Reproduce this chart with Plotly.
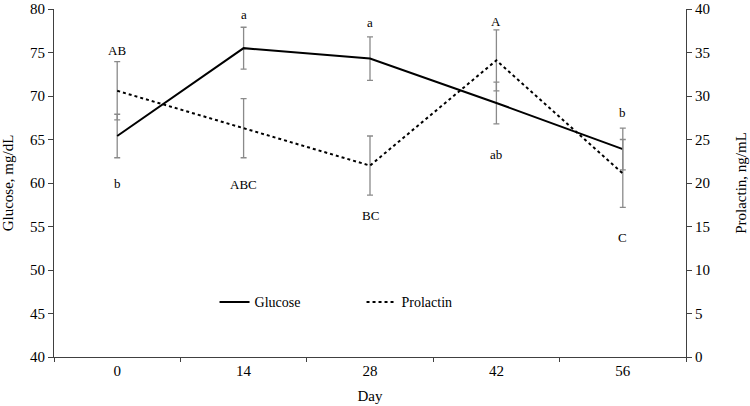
import plotly.graph_objects as go

days = ["0", "14", "28", "42", "56"]
glucose = [65.4, 75.5, 74.3, 69.2, 63.9]
glucose_se = [2.5, 2.4, 2.5, 2.4, 2.4]
prolactin = [30.6, 26.3, 22.0, 34.1, 21.1]
prolactin_se = [3.35, 3.4, 3.4, 3.5, 3.9]
glucose_letters = ["b", "a", "a", "ab", "b"]
prolactin_letters = ["AB", "ABC", "BC", "A", "C"]

FONT = "Liberation Serif"
ERR = "#8a8a8a"
AX = "#404040"

fig = go.Figure()
fig.add_trace(go.Scatter(
    x=days, y=glucose, name="Glucose", mode="lines",
    line=dict(color="black", width=2),
    error_y=dict(type="data", array=glucose_se, color=ERR, thickness=1.3, width=3),
))
fig.add_trace(go.Scatter(
    x=days, y=prolactin, name="Prolactin", mode="lines", yaxis="y2",
    line=dict(color="black", width=2, dash="dot"),
    error_y=dict(type="data", array=prolactin_se, color=ERR, thickness=1.3, width=3),
))

# letter positions (glucose-axis units)
letter_y_glu = [59.9, 79.4, 78.5, 63.3, 68.1]
letter_y_pro = [75.2, 59.8, 56.25, 78.6, 53.75]
for i, d in enumerate(days):
    fig.add_annotation(x=i, y=letter_y_glu[i], xref="x", yref="y", text=glucose_letters[i],
                       showarrow=False, font=dict(family=FONT, size=13, color="black"))
    fig.add_annotation(x=i, y=letter_y_pro[i], xref="x", yref="y", text=prolactin_letters[i],
                       showarrow=False, font=dict(family=FONT, size=13, color="black"))

fig.update_layout(
    width=750, height=406,
    margin=dict(l=54, r=63.5, t=9, b=49, autoexpand=False),
    paper_bgcolor="white", plot_bgcolor="white",
    font=dict(family=FONT, size=15, color="black"),
    showlegend=True,
    legend=dict(orientation="h", x=0.254, y=0.157, xanchor="left", yanchor="middle",
                bgcolor="rgba(0,0,0,0)", font=dict(family=FONT, size=14, color="black"),
                entrywidth=102, entrywidthmode="pixels", itemwidth=30),
    xaxis=dict(type="category", range=[-0.5, 4.5], autorange=False,
               title=dict(text="Day", standoff=12, font=dict(size=15)),
               showline=True, linecolor=AX, linewidth=1, ticks="outside", tickson="boundaries",
               ticklen=4, tickcolor=AX, showgrid=False, zeroline=False, automargin=False,
               tickfont=dict(size=15)),
    yaxis=dict(title=dict(text="Glucose, mg/dL", standoff=12, font=dict(size=15)),
               range=[40, 80], dtick=5, showline=True, linecolor=AX, linewidth=1,
               ticks="outside", ticklen=5, tickcolor=AX, showgrid=False, zeroline=False,
               automargin=False, tickfont=dict(size=15), ticklabeloverflow="allow"),
    yaxis2=dict(title=dict(text="Prolactin, ng/mL", standoff=26, font=dict(size=15)),
                range=[0, 40], dtick=5, overlaying="y", side="right",
                showline=True, linecolor=AX, linewidth=1, ticks="outside", ticklen=5,
                tickcolor=AX, showgrid=False, zeroline=False, automargin=False,
                tickfont=dict(size=15), ticklabeloverflow="allow"),
)

fig.write_html("out.html", config={"displayModeBar": False},
               post_script="document.body.style.margin='0px';")
